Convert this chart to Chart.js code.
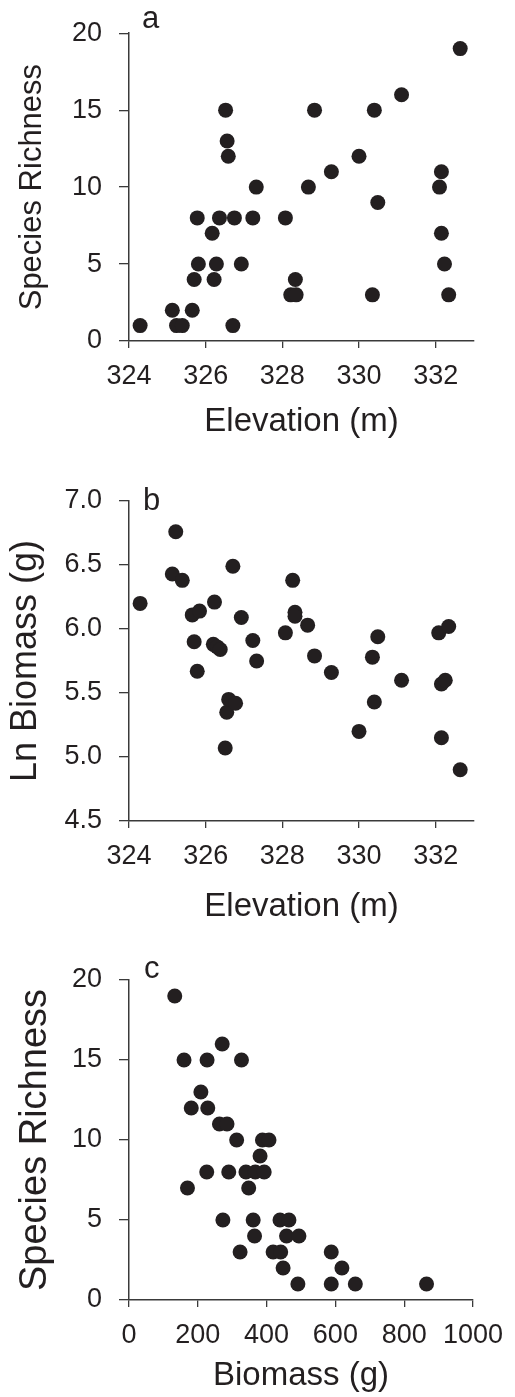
<!DOCTYPE html>
<html>
<head>
<meta charset="utf-8">
<title>Species richness, biomass and elevation</title>
<script src="https://cdn.jsdelivr.net/npm/chart.js@4.4.1/dist/chart.umd.min.js"></script>
<style>
  body { margin: 0; background: #fff; width: 515px; height: 1397px; position: relative; overflow: hidden; }
  canvas { position: absolute; left: 0; }
  .letter { position: absolute; font-family: "Liberation Sans", Arial, sans-serif; font-size: 31px; line-height: 31px; color: #231f20; }
</style>
</head>
<body>
<canvas id="chart-a" width="515" height="450" style="top:0"></canvas>
<canvas id="chart-b" width="515" height="480" style="top:460px"></canvas>
<canvas id="chart-c" width="515" height="457" style="top:940px"></canvas>
<div class="letter" style="left:142px;top:2px">a</div>
<div class="letter" style="left:143px;top:484px">b</div>
<div class="letter" style="left:144px;top:952px">c</div>
<script>
// Panel a: elevation vs species richness
const elevationA = [324.29, 325.13, 325.24, 325.39, 325.65, 325.70, 325.78, 325.81, 326.17, 326.22,
    326.28, 326.36, 326.52, 326.56, 326.59, 326.71, 326.75, 326.93, 327.23, 327.32,
    328.08, 328.22, 328.34, 328.36, 328.68, 328.84, 329.28, 330.00, 330.35, 330.40,
    330.49, 331.11, 332.10, 332.15, 332.15, 332.23, 332.34, 332.64];
const richnessA = [1, 2, 1, 1, 2, 4, 8, 5, 7, 4,
    5, 8, 15, 13, 12, 1, 8, 5, 8, 10,
    8, 3, 4, 3, 10, 15, 11, 12, 3, 15,
    9, 16, 10, 11, 7, 5, 3, 19];

// Panel b: elevation vs ln biomass
const elevationB = [324.29, 325.13, 325.22, 325.39, 325.65, 325.70, 325.78, 325.84, 326.20, 326.23,
    326.30, 326.38, 326.51, 326.55, 326.60, 326.71, 326.78, 326.93, 327.23, 327.33,
    328.08, 328.27, 328.33, 328.33, 328.66, 328.84, 329.28, 330.00, 330.35, 330.40,
    330.49, 331.11, 332.08, 332.15, 332.15, 332.25, 332.34, 332.64];
const lnBiomassB = [6.20, 6.43, 6.76, 6.38, 6.11, 5.90, 5.67, 6.14, 5.88, 6.21,
    5.86, 5.84, 5.07, 5.35, 5.45, 6.49, 5.42, 6.09, 5.91, 5.75,
    5.97, 6.38, 6.13, 6.10, 6.03, 5.79, 5.66, 5.20, 5.78, 5.43,
    5.94, 5.60, 5.97, 5.57, 5.15, 5.60, 6.02, 4.90];

// Panel c: biomass vs species richness
const biomassC = [133, 271, 160, 227, 327, 209, 181, 229, 263, 285,
    313, 388, 407, 381, 226, 290, 340, 367, 393, 170,
    348, 273, 361, 439, 465, 365, 458, 494, 323, 419,
    441, 588, 448, 619, 491, 588, 658, 865];
const richnessC = [19, 16, 15, 15, 15, 13, 12, 12, 11, 11,
    10, 10, 10, 9, 8, 8, 8, 8, 8, 7,
    7, 5, 5, 5, 5, 4, 4, 4, 3, 3,
    3, 3, 2, 2, 1, 1, 1, 1];

const elevationTicks = [324, 326, 328, 330, 332];
const richnessTicks = [0, 5, 10, 15, 20];
const lnBiomassTicks = [4.5, 5.0, 5.5, 6.0, 6.5, 7.0];
const biomassTicks = [0, 200, 400, 600, 800, 1000];

const ink = '#231f20';
const axisColor = '#3a3a3a';
const family = '"Liberation Sans", Arial, sans-serif';

function drawPanel(id, xs, ys, opt) {
    const points = xs.map((x, i) => ({ x: x, y: ys[i] }));
    return new Chart(document.getElementById(id), {
        type: 'scatter',
        data: {
            datasets: [{
                data: points,
                backgroundColor: ink,
                borderWidth: 0,
                pointRadius: 7.5,
                pointHoverRadius: 7.5
            }]
        },
        options: {
            responsive: false,
            animation: false,
            devicePixelRatio: 1,
            events: [],
            layout: { padding: { left: 0, right: 41, top: opt.top, bottom: 0 } },
            plugins: { legend: { display: false }, tooltip: { enabled: false } },
            scales: {
                x: {
                    type: 'linear',
                    min: opt.xMin,
                    max: opt.xMax,
                    afterBuildTicks: s => { s.ticks = opt.xTicks.map(v => ({ value: v })); },
                    afterFit: s => { s.height = opt.height - opt.top - 320; },
                    grid: { drawOnChartArea: false, tickLength: 7, color: axisColor, lineWidth: 1.3 },
                    border: { color: axisColor, width: 1.5 },
                    ticks: {
                        font: { family: family, size: 27, lineHeight: 1.2 },
                        color: ink, padding: 12, maxRotation: 0, autoSkip: false,
                        callback: v => String(v)
                    },
                    title: {
                        display: true, text: opt.xTitle, color: ink,
                        font: { family: family, size: 33, lineHeight: 1 },
                        padding: { top: 0, bottom: opt.xTitlePad }
                    }
                },
                y: {
                    type: 'linear',
                    min: opt.yMin,
                    max: opt.yMax,
                    afterBuildTicks: s => { s.ticks = opt.yTicks.map(v => ({ value: v })); },
                    afterFit: s => { s.width = 129; },
                    grid: { drawOnChartArea: false, tickLength: 10, color: axisColor, lineWidth: 1.3 },
                    border: { color: axisColor, width: 1.5 },
                    ticks: {
                        font: { family: family, size: 27, lineHeight: 1.2 },
                        color: ink, padding: 17, autoSkip: false,
                        callback: opt.yFormat
                    },
                    title: {
                        display: true, text: opt.yTitle, color: ink,
                        font: { family: family, size: opt.yTitleSize, lineHeight: 1 },
                        padding: { top: opt.yTitlePad, bottom: 0 }
                    }
                }
            }
        }
    });
}

drawPanel('chart-a', elevationA, richnessA, {
    height: 450, top: 21, xTitlePad: 12,
    xMin: 324, xMax: 333, xTicks: elevationTicks, xTitle: 'Elevation (m)',
    yMin: 0, yMax: 20, yTicks: richnessTicks, yTitle: 'Species Richness',
    yTitleSize: 31, yTitlePad: 17,
    yFormat: v => String(v)
});

drawPanel('chart-b', elevationB, lnBiomassB, {
    height: 480, top: 41, xTitlePad: 17,
    xMin: 324, xMax: 333, xTicks: elevationTicks, xTitle: 'Elevation (m)',
    yMin: 4.5, yMax: 7.0, yTicks: lnBiomassTicks, yTitle: 'Ln Biomass (g)',
    yTitleSize: 36, yTitlePad: 8,
    yFormat: v => v.toFixed(1)
});

drawPanel('chart-c', biomassC, richnessC, {
    height: 457, top: 40, xTitlePad: 5,
    xMin: 0, xMax: 1000, xTicks: biomassTicks, xTitle: 'Biomass (g)',
    yMin: 0, yMax: 20, yTicks: richnessTicks, yTitle: 'Species Richness',
    yTitleSize: 38, yTitlePad: 17,
    yFormat: v => String(v)
});
</script>
</body>
</html>
